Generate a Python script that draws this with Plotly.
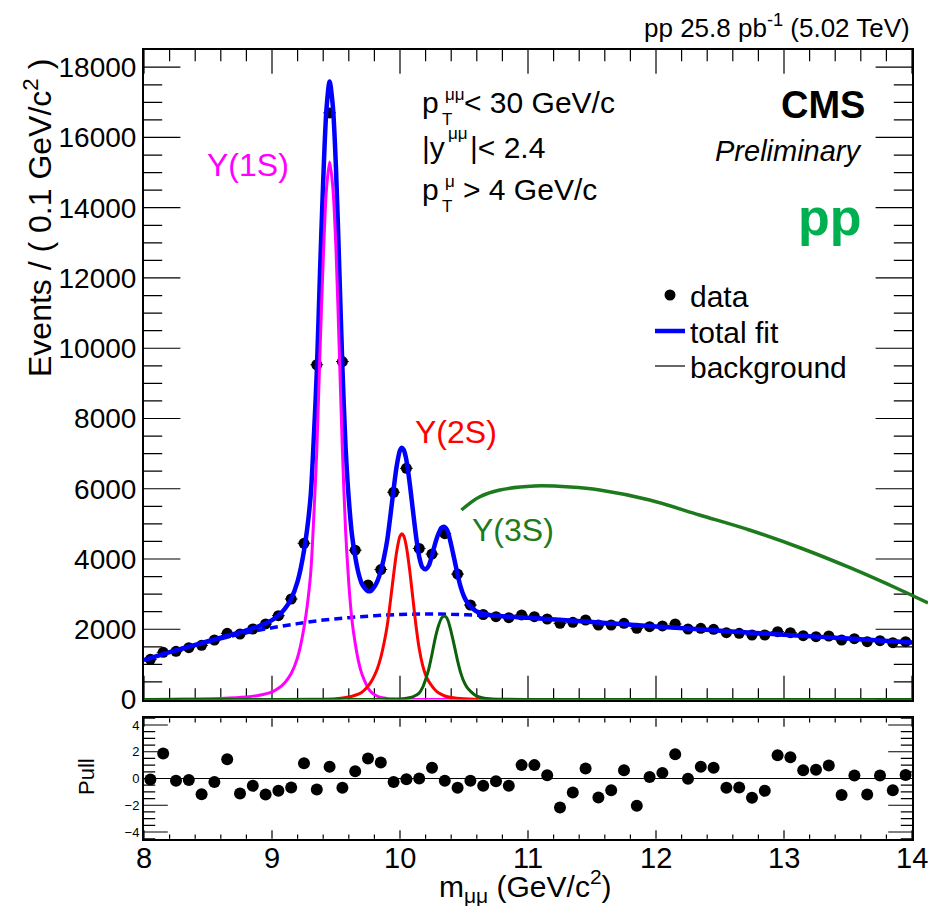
import numpy as np
import plotly.graph_objects as go

# ---------------- data ----------------
mass = [8.05, 8.15, 8.25, 8.35, 8.45, 8.55, 8.65, 8.75, 8.85, 8.95,
        9.05, 9.15, 9.25, 9.35, 9.45, 9.55, 9.65, 9.75, 9.85, 9.95,
        10.05, 10.15, 10.25, 10.35, 10.45, 10.55, 10.65, 10.75, 10.85, 10.95,
        11.05, 11.15, 11.25, 11.35, 11.45, 11.55, 11.65, 11.75, 11.85, 11.95,
        12.05, 12.15, 12.25, 12.35, 12.45, 12.55, 12.65, 12.75, 12.85, 12.95,
        13.05, 13.15, 13.25, 13.35, 13.45, 13.55, 13.65, 13.75, 13.85, 13.95]
counts = [1145, 1344, 1372, 1475, 1543, 1694, 1884, 1865, 2007, 2150,
          2386, 2861, 4447, 9530, 16700, 9620, 4250, 3260, 3700, 5900,
          6580, 4300, 4140, 4720, 3570, 2690, 2420, 2358, 2330, 2406,
          2358, 2292, 2168, 2197, 2263, 2121, 2121, 2168, 2026, 2074,
          2093, 2149, 2007, 2026, 1998, 1903, 1884, 1836, 1836, 1931,
          1903, 1817, 1789, 1808, 1694, 1732, 1646, 1675, 1618, 1646]
pulls = [-0.07, 1.87, -0.17, -0.12, -1.17, -0.27, 1.44, -1.12, -0.55, -1.19,
         -0.92, -0.67, 1.14, -0.82, 0.87, -0.70, 0.55, 1.49, 1.19, -0.27,
         -0.05, 0.00, 0.80, -0.17, -0.70, -0.17, -0.55, -0.20, -0.55, 1.00,
         1.00, 0.25, -2.16, -1.04, 0.75, -1.42, -0.87, 0.62, -2.04, 0.12,
         0.42, 1.82, -0.02, 0.87, 0.80, -0.70, -0.67, -1.44, -0.92, 1.74,
         1.59, 0.62, 0.65, 0.97, -1.24, 0.22, -1.19, 0.22, -0.87, 0.27]

fit_x = [8.0, 8.2, 8.4, 8.6, 8.8, 8.9, 9.0, 9.05, 9.1, 9.15, 9.2, 9.25,
         9.3, 9.325, 9.35, 9.375, 9.4, 9.425, 9.45, 9.475, 9.5, 9.525, 9.55, 9.575,
         9.6, 9.625, 9.65, 9.675, 9.7, 9.725, 9.75, 9.775, 9.8, 9.825, 9.85, 9.875,
         9.9, 9.925, 9.95, 9.975, 10.0, 10.015, 10.03, 10.05, 10.075, 10.1, 10.125, 10.15,
         10.175, 10.2, 10.225, 10.25, 10.275, 10.3, 10.325, 10.344, 10.36, 10.375, 10.4, 10.425,
         10.45, 10.475, 10.5, 10.525, 10.55, 10.6, 10.65, 10.7, 10.8, 11.0, 11.5, 12.0,
         12.5, 13.0, 13.5, 14.0]
fit_y = [1123, 1348, 1555, 1760, 1970, 2090, 2260, 2390, 2580, 2870, 3360, 4235,
         5710, 7322, 9335, 12148, 14765, 16778, 17592, 16903, 15115, 12333, 9455, 7174,
         5700, 4680, 4065, 3607, 3310, 3166, 3082, 3098, 3207, 3383, 3659, 4043,
         4533, 5233, 5984, 6667, 7091, 7165, 7100, 6814, 6181, 5408, 4654, 4065,
         3765, 3706, 3815, 4104, 4443, 4712, 4890, 4918, 4872, 4761, 4400, 3984,
         3552, 3191, 2931, 2765, 2659, 2503, 2441, 2408, 2373, 2327, 2205, 2080,
         1960, 1845, 1735, 1625]

bkg_x = [8.0, 8.2, 8.4, 8.6, 8.8, 9.0, 9.2, 9.4, 9.6, 9.8, 10.0, 10.2, 10.4,
         10.6, 10.8, 11.0, 11.5, 12.0, 12.5, 13.0, 13.5, 14.0]
bkg_y = [1120, 1340, 1540, 1730, 1900, 2040, 2160, 2260, 2330, 2385, 2420, 2435, 2425,
         2400, 2365, 2325, 2205, 2080, 1960, 1845, 1735, 1625]

y1s_x = [8.0, 8.2, 8.4, 8.6, 8.8, 8.9, 9.0, 9.05, 9.1, 9.15, 9.2, 9.25, 9.3, 9.325,
         9.35, 9.375, 9.4, 9.425, 9.45, 9.475, 9.5, 9.525, 9.55, 9.575, 9.6, 9.625,
         9.65, 9.675, 9.7, 9.725, 9.75, 9.775, 9.8, 9.825, 9.85, 9.875, 9.9, 9.95,
         10.0, 10.1, 10.3, 11.0, 14.0]
y1s_y = [3, 8, 15, 30, 70, 120, 220, 320, 480, 740, 1200, 2050, 3500, 5100,
         7100, 9900, 12500, 14500, 15300, 14600, 12800, 10000, 7100, 4800, 3300, 2250,
         1600, 1100, 750, 520, 330, 210, 140, 90, 60, 40, 25, 13,
         6, 3, 1, 0, 0]

y2s_x = [8.0, 9.0, 9.3, 9.5, 9.6, 9.65, 9.7, 9.725, 9.75, 9.775, 9.8, 9.825, 9.85,
         9.875, 9.9, 9.925, 9.95, 9.975, 10.0, 10.015, 10.03, 10.05, 10.075, 10.1,
         10.125, 10.15, 10.175, 10.2, 10.225, 10.25, 10.275, 10.3, 10.35, 10.4, 10.5,
         10.6, 10.8, 11.5, 14.0]
y2s_y = [0, 1, 5, 20, 70, 120, 200, 280, 380, 510, 680, 900, 1200,
         1600, 2100, 2800, 3550, 4230, 4650, 4720, 4650, 4350, 3700, 2900,
         2100, 1450, 1000, 700, 510, 380, 270, 190, 100, 55, 18,
         8, 2, 0, 0]

y3s_x = [8.0, 9.5, 9.8, 9.9, 10.0, 10.05, 10.1, 10.15, 10.175, 10.2, 10.225, 10.25,
         10.275, 10.3, 10.325, 10.344, 10.36, 10.375, 10.4, 10.425, 10.45, 10.475,
         10.5, 10.525, 10.55, 10.6, 10.65, 10.7, 10.8, 11.0, 11.5, 14.0]
y3s_y = [0, 0, 2, 5, 15, 35, 75, 180, 330, 570, 870, 1290,
         1740, 2090, 2320, 2380, 2350, 2250, 1920, 1520, 1100, 750,
         500, 340, 240, 95, 45, 22, 8, 2, 0, 0]

# stray green curve drawn next to the Y(3S) label (runs past the frame)
y3s_extra_x = [10.48, 10.62, 10.78, 11.05, 11.33, 11.56, 11.95, 12.34, 12.73,
               13.13, 13.52, 13.91, 14.125]
y3s_extra_y = [5395, 5765, 5964, 6078, 6050, 5964, 5680, 5252, 4825,
               4313, 3744, 3117, 2747]

# axis tick values
x_major = [8, 9, 10, 11, 12, 13, 14]
x_minor = [round(8 + 0.2 * i, 1) for i in range(31) if i % 5 != 0]
y_major = [0, 2000, 4000, 6000, 8000, 10000, 12000, 14000, 16000, 18000]
y_minor = [500 * i for i in range(1, 37) if i % 4 != 0]
pull_major = [-4, -2, 0, 2, 4]
pull_minor = [-4.5, -3.5, -3, -2.5, -1.5, -1, -0.5, 0.5, 1, 1.5, 2.5, 3, 3.5, 4.5]

# ---------------- layout geometry (pixels of a 928x906 page) ----------------
W, H = 928, 906
FONT = "Liberation Sans, Arial, Helvetica, sans-serif"


def px(x):
    return x / W


def py(y):
    return 1 - y / H


X0, X1 = 144, 912
XDOM = [px(X0), px(X1)]
YDOM_MAIN = [py(699.5), py(50)]
YDOM_PULL = [py(838.7), py(718.3)]
XMIN, XMAX = 8, 14
YMAX = 18490
PMIN, PMAX = -4.5, 4.5
X_EXT = 8 + (W - X0) / 128.0

BLUE = "#0000ff"
MAGENTA = "#ff00ff"
RED = "#ff0000"
DKGREEN = "#0b620b"
GREEN2 = "#1d7a1d"

fig = go.Figure()


def tick_marks(vals, fixed_a, fixed_b, along_x, length, xa, ya):
    """Inside tick marks: line markers centred on the frame, outer half clipped by the axes."""
    if along_x:
        xs, ys, sym = list(vals) * 2, [fixed_a] * len(vals) + [fixed_b] * len(vals), "line-ns"
    else:
        xs, ys, sym = [fixed_a] * len(vals) + [fixed_b] * len(vals), list(vals) * 2, "line-ew"
    fig.add_trace(go.Scatter(
        x=xs, y=ys, mode="markers", showlegend=False, hoverinfo="skip", cliponaxis=True,
        marker=dict(symbol=sym, size=2 * length, color="black",
                    line=dict(color="black", width=1.2)),
        xaxis=xa, yaxis=ya))


# frame ticks (main panel)
tick_marks(x_major, 0, YMAX, True, 17, "x", "y")
tick_marks(x_minor, 0, YMAX, True, 8, "x", "y")
tick_marks(y_major, XMIN, XMAX, False, 26, "x", "y")
tick_marks(y_minor, XMIN, XMAX, False, 13, "x", "y")
# frame ticks (pull panel)
tick_marks(x_major, PMIN, PMAX, True, 6, "x2", "y2")
tick_marks(x_minor, PMIN, PMAX, True, 3, "x2", "y2")
tick_marks(pull_major, XMIN, XMAX, False, 17, "x2", "y2")
tick_marks(pull_minor, XMIN, XMAX, False, 8, "x2", "y2")

fig.add_trace(go.Scatter(
    x=mass, y=counts, mode="markers", name="data",
    marker=dict(color="black", size=11),
    error_y=dict(type="data", array=np.sqrt(np.array(counts, dtype=float)),
                 color="black", thickness=1, width=0),
    error_x=dict(type="constant", value=0.05, color="black", thickness=1, width=0),
    xaxis="x", yaxis="y", legend="legend"))

fig.add_trace(go.Scatter(
    x=fit_x, y=fit_y, mode="lines", name="total fit",
    line=dict(color=BLUE, width=4.5, shape="spline", smoothing=0.8),
    xaxis="x", yaxis="y", legend="legend2"))

fig.add_trace(go.Scatter(
    x=bkg_x, y=bkg_y, mode="lines", showlegend=False,
    line=dict(color=BLUE, width=3.5, dash="8px,5px", shape="spline"),
    xaxis="x", yaxis="y"))

for xs, ys, col in [(y1s_x, y1s_y, MAGENTA), (y2s_x, y2s_y, RED), (y3s_x, y3s_y, DKGREEN)]:
    fig.add_trace(go.Scatter(
        x=xs, y=ys, mode="lines", showlegend=False,
        line=dict(color=col, width=3, shape="spline", smoothing=0.8),
        xaxis="x", yaxis="y"))

fig.add_trace(go.Scatter(
    x=[None], y=[None], mode="lines", name="background",
    line=dict(color="black", width=1.2), xaxis="x", yaxis="y", legend="legend3"))

fig.add_trace(go.Scatter(
    x=y3s_extra_x, y=y3s_extra_y, mode="lines", showlegend=False,
    line=dict(color=GREEN2, width=3.5, shape="spline"),
    xaxis="x3", yaxis="y3"))

fig.add_trace(go.Scatter(
    x=mass, y=pulls, mode="markers", showlegend=False,
    marker=dict(color="black", size=12),
    xaxis="x2", yaxis="y2"))


def axis(**kw):
    base = dict(showline=True, linewidth=2, linecolor="black", mirror=True,
                ticks="", showgrid=False, zeroline=False, tickmode="linear",
                automargin=False)
    base.update(kw)
    return base


def leg(y):
    return dict(x=px(650), y=py(y), xanchor="left", yanchor="middle",
                bgcolor="rgba(0,0,0,0)", borderwidth=0,
                font=dict(family=FONT, size=30, color="black"),
                tracegroupgap=0, itemwidth=30)


fig.update_layout(
    template="none",
    width=W, height=H, autosize=False,
    margin=dict(l=0, r=0, t=0, b=0, pad=0),
    paper_bgcolor="white", plot_bgcolor="rgba(0,0,0,0)",
    font=dict(family=FONT, color="black"),
    showlegend=True,
    legend=leg(295), legend2=leg(331), legend3=leg(366),
    xaxis=axis(domain=XDOM, range=[XMIN, XMAX], anchor="y", tick0=8, dtick=1,
               showticklabels=False),
    yaxis=axis(domain=YDOM_MAIN, range=[0, YMAX], anchor="x", tick0=0, dtick=2000,
               tickfont=dict(size=28, family=FONT), tickformat="d"),
    xaxis2=axis(domain=XDOM, range=[XMIN, XMAX], anchor="y2", tick0=8, dtick=1,
                showticklabels=False),
    yaxis2=axis(domain=YDOM_PULL, range=[PMIN, PMAX], anchor="x2", tick0=0, dtick=2,
                tickfont=dict(size=13, family=FONT),
                zeroline=True, zerolinecolor="black", zerolinewidth=1),
    xaxis3=dict(domain=[px(X0), 1.0], range=[XMIN, X_EXT], anchor="y3", visible=False,
                automargin=False, showgrid=False, zeroline=False),
    yaxis3=dict(domain=YDOM_MAIN, range=[0, YMAX], anchor="x3", visible=False,
                automargin=False, showgrid=False, zeroline=False),
)

annotations = []


def ann(text, x, y, size, color="black", xanchor="left", textangle=0):
    annotations.append(dict(text=text, x=px(x), y=py(y), xref="paper", yref="paper",
                            xanchor=xanchor, yanchor="middle", showarrow=False,
                            textangle=textangle,
                            font=dict(family=FONT, size=size, color=color)))


# x tick labels of the pull panel, placed through the x2 axis scale
for v in x_major:
    annotations.append(dict(text=str(v), x=v, xref="x2", y=py(858), yref="paper",
                            xanchor="center", yanchor="middle", showarrow=False,
                            font=dict(family=FONT, size=29, color="black")))

ann("pp 25.8 pb<sup>-1</sup> (5.02 TeV)", 912, 26, 26, xanchor="right")
ann("<b>CMS</b>", 867, 105, 38, xanchor="right")
ann("<i>Preliminary</i>", 864, 151, 29, xanchor="right")
ann("<b>pp</b>", 864, 217, 52, color="#00b050", xanchor="right")

ann("p", 420, 102, 30)
ann("μμ", 443, 95, 17)
ann("T", 440, 119, 17)
ann("< 30 GeV/c", 462, 102, 30)
ann("|y", 420, 148, 30)
ann("μμ", 446, 134, 17)
ann("|< 2.4", 468, 148, 30)
ann("p", 420, 189, 30)
ann("μ", 443, 181, 17)
ann("T", 440, 207, 17)
ann("> 4 GeV/c", 461, 189, 30)

ann("Y(1S)", 205, 165, 32, color=MAGENTA)
ann("Y(2S)", 413, 432, 32, color=RED)
ann("Y(3S)", 470, 530, 32, color=GREEN2)

ann("Events / ( 0.1 GeV/c<sup>2</sup> )", 38, 218, 32, xanchor="center", textangle=-90)
ann("Pull", 86, 777, 22, xanchor="center", textangle=-90)
ann("m<sub>μμ</sub> (GeV/c<sup>2</sup>)", 525, 886, 30, xanchor="center")

fig.update_layout(annotations=annotations)

fig.write_html("out.html")
